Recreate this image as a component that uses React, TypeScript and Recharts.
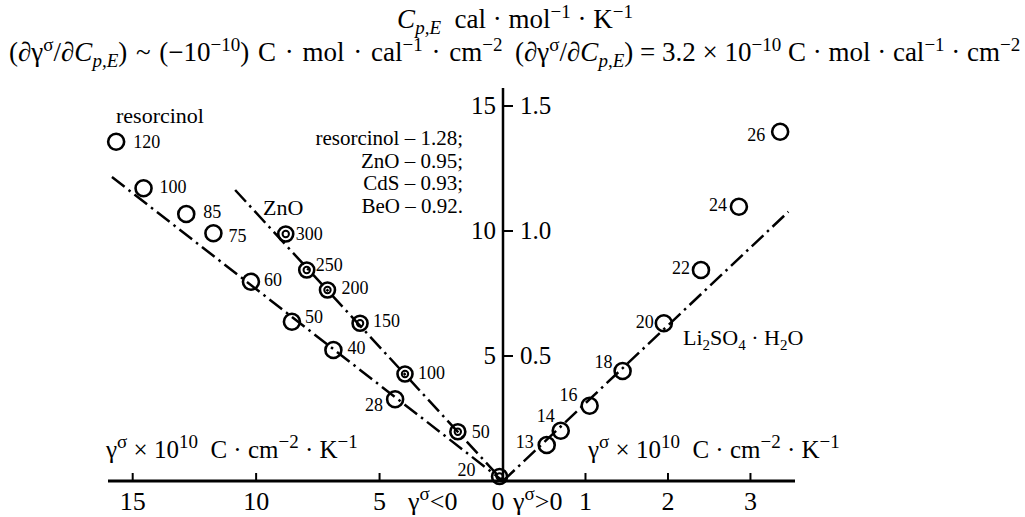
import React from "react";
import { ReferenceLine, Scatter, ScatterChart, XAxis, YAxis } from "recharts";

// resorcinol: temperature (K), gamma (x10^10, plotted as |γ|), Cp,E
const RES_T = [120, 100, 85, 75, 60, 50, 40, 28];
const RES_GAMMA = [15.67, 14.56, 12.83, 11.73, 10.21, 8.55, 6.87, 4.37];
const RES_CP = [13.57, 11.71, 10.68, 9.91, 7.97, 6.37, 5.24, 3.27];

// ZnO
const ZNO_T = [300, 250, 200, 150, 100, 50, 20];
const ZNO_GAMMA = [8.8, 7.95, 7.11, 5.79, 3.97, 1.83, 0.14];
const ZNO_CP = [9.88, 8.44, 7.64, 6.31, 4.28, 1.97, 0.18];

// Li2SO4·H2O
const LI_T = [13, 14, 16, 18, 20, 22, 24, 26];
const LI_GAMMA = [0.53, 0.7, 1.05, 1.45, 1.95, 2.4, 2.86, 3.36];
const LI_CP = [0.144, 0.201, 0.301, 0.44, 0.631, 0.844, 1.097, 1.397];

// linear fits, end points
const RES_FIT_GAMMA = [15.84, 0];
const RES_FIT_CP = [12.16, 0];
const ZNO_FIT_GAMMA = [10.85, 0];
const ZNO_FIT_CP = [11.64, 0];
const LI_FIT_GAMMA = [0, 3.46];
const LI_FIT_CP = [0, 1.077];

const LEFT_X_TICKS = [15, 10, 5];
const LEFT_Y_TICKS = [5, 10, 15];
const RIGHT_X_TICKS = [0, 1, 2, 3];
const RIGHT_Y_TICKS = [0.5, 1.0, 1.5];

// label offsets [dx, dy] from the marker centre
const RES_LABEL = [[17, 0], [16, -1], [17, -2], [15, 3], [13, -2], [13, -5], [14, -2], [-12, 6]];
const ZNO_LABEL = [[10, 0], [9, -5], [14, -2], [13, -2], [13, -1], [14, 0], [-24, -7]];
const LI_LABEL = [[-13, -3], [-6, -15], [-12, -11], [-10, -9], [-10, -1], [-11, -2], [-12, -2], [-15, 3]];

const SERIF = '"Liberation Serif", "DejaVu Serif", serif';
const INK = "#000";
const DASH = "16 5 2.5 5";
const SUP = 19;

const rows = (t: number[], g: number[], cp: number[]) =>
  t.map((v, i) => ({ t: v, gamma: g[i], cp: cp[i], i }));

const resRows = rows(RES_T, RES_GAMMA, RES_CP);
const znoRows = rows(ZNO_T, ZNO_GAMMA, ZNO_CP);
const liRows = rows(LI_T, LI_GAMMA, LI_CP);

const seg = (g: number[], cp: number[]) => [
  { x: g[0], y: cp[0] },
  { x: g[1], y: cp[1] },
];

function marker(labels: number[][], double: boolean) {
  return (props: any) => {
    const { cx, cy, payload } = props;
    const [dx, dy] = labels[payload.i];
    return (
      <g>
        <circle cx={cx} cy={cy} r={double ? 7.5 : 8} fill="none" stroke={INK} strokeWidth={2.6} />
        {double && <circle cx={cx} cy={cy} r={3.2} fill="none" stroke={INK} strokeWidth={2} />}
        <text
          x={cx + dx}
          y={cy + dy}
          textAnchor={dx < 0 ? "end" : "start"}
          dominantBaseline="central"
          fontSize={18}
          fontFamily={SERIF}
          fill={INK}
        >
          {payload.t}
        </text>
      </g>
    );
  };
}

function BottomTick(props: any) {
  const { x, y, payload } = props;
  return (
    <g>
      {payload.value !== 0 && <line x1={x} x2={x} y1={y} y2={y - 8} stroke={INK} strokeWidth={2} />}
      <text x={payload.value === 0 ? x - 5 : x} y={y + 29} textAnchor="middle" fontSize={26} fontFamily={SERIF} fill={INK}>
        {payload.value}
      </text>
    </g>
  );
}

function LeftScaleTick(props: any) {
  const { x, y, payload } = props;
  return (
    <text x={x - 7} y={y} dy={8} textAnchor="end" fontSize={25} fontFamily={SERIF} fill={INK}>
      {payload.value}
    </text>
  );
}

function RightScaleTick(props: any) {
  const { x, y, payload } = props;
  return (
    <g>
      <line x1={x} x2={x + 10} y1={y} y2={y} stroke={INK} strokeWidth={2} />
      <text x={x + 17} y={y} dy={8} textAnchor="start" fontSize={25} fontFamily={SERIF} fill={INK}>
        {Number(payload.value).toFixed(1)}
      </text>
    </g>
  );
}

const layer: React.CSSProperties = { position: "absolute", left: 0, top: 0 };

// (∂γ^σ/∂C_p,E) — leaves the baseline shifted down by the subscript (6px)
function Deriv() {
  return (
    <>
      <tspan>(∂γ</tspan>
      <tspan fontSize={SUP} dy={-10}>σ</tspan>
      <tspan dy={10}>/∂</tspan>
      <tspan fontStyle="italic">C</tspan>
      <tspan fontStyle="italic" fontSize={SUP} dy={6}>p,E</tspan>
    </>
  );
}

// C·mol·cal^-1·cm^-2; `back` undoes whatever shift the previous piece left
function PerCal({ back }: { back: number }) {
  return (
    <>
      <tspan dy={back}>{" C · mol · cal"}</tspan>
      <tspan fontSize={SUP} dy={-10}>−1</tspan>
      <tspan dy={10}>{" · cm"}</tspan>
      <tspan fontSize={SUP} dy={-10}>−2</tspan>
    </>
  );
}

function GammaUnit({ x }: { x: number }) {
  return (
    <text x={x} y={458} fontSize={25}>
      <tspan>γ</tspan>
      <tspan fontSize={19} dy={-10}>σ</tspan>
      <tspan dy={10}>{" × 10"}</tspan>
      <tspan fontSize={19} dy={-10}>10</tspan>
      <tspan dy={10}>{"\u00a0\u00a0C · cm"}</tspan>
      <tspan fontSize={19} dy={-10}>−2</tspan>
      <tspan dy={10}>{" · K"}</tspan>
      <tspan fontSize={19} dy={-10}>−1</tspan>
    </text>
  );
}

export default function App() {
  return (
    <div style={{ position: "absolute", left: 0, top: 0, width: 1025, height: 517, background: "#fff" }}>
      {/* γ < 0 side: resorcinol and ZnO */}
      <div style={layer}>
        <ScatterChart width={1025} height={517} margin={{ top: 88, right: 482, bottom: 6, left: 108 }}>
          <XAxis
            type="number"
            dataKey="gamma"
            domain={[0, 16]}
            reversed
            ticks={LEFT_X_TICKS}
            interval={0}
            height={30}
            tickSize={0}
            tickMargin={0}
            axisLine={{ stroke: INK, strokeWidth: 3 }}
            tickLine={false}
            tick={BottomTick}
          />
          <YAxis
            type="number"
            dataKey="cp"
            orientation="right"
            domain={[0, 15.72]}
            ticks={LEFT_Y_TICKS}
            interval={0}
            width={40}
            tickSize={0}
            tickMargin={0}
            axisLine={false}
            tickLine={false}
            tick={LeftScaleTick}
          />
          <ReferenceLine segment={seg(RES_FIT_GAMMA, RES_FIT_CP)} stroke={INK} strokeWidth={2.5} strokeDasharray={DASH} />
          <ReferenceLine segment={seg(ZNO_FIT_GAMMA, ZNO_FIT_CP)} stroke={INK} strokeWidth={2.5} strokeDasharray={DASH} />
          <Scatter data={resRows} shape={marker(RES_LABEL, false)} isAnimationActive={false} />
          <Scatter data={znoRows} shape={marker(ZNO_LABEL, true)} isAnimationActive={false} />
        </ScatterChart>
      </div>

      {/* γ > 0 side: Li2SO4·H2O */}
      <div style={layer}>
        <ScatterChart width={1025} height={517} margin={{ top: 88, right: 230, bottom: 6, left: 463 }}>
          <XAxis
            type="number"
            dataKey="gamma"
            domain={[0, 3.54]}
            ticks={RIGHT_X_TICKS}
            interval={0}
            height={30}
            tickSize={0}
            tickMargin={0}
            axisLine={{ stroke: INK, strokeWidth: 3 }}
            tickLine={false}
            tick={BottomTick}
          />
          <YAxis
            type="number"
            dataKey="cp"
            domain={[0, 1.572]}
            ticks={RIGHT_Y_TICKS}
            interval={0}
            width={40}
            tickSize={0}
            tickMargin={0}
            axisLine={{ stroke: INK, strokeWidth: 2.5 }}
            tickLine={false}
            tick={RightScaleTick}
          />
          <ReferenceLine segment={seg(LI_FIT_GAMMA, LI_FIT_CP)} stroke={INK} strokeWidth={2.5} strokeDasharray={DASH} />
          <Scatter data={liRows} shape={marker(LI_LABEL, false)} isAnimationActive={false} />
        </ScatterChart>
      </div>

      {/* titles and annotations */}
      <svg width={1025} height={517} style={{ ...layer, pointerEvents: "none" }} fontFamily={SERIF} fill={INK}>
        <text x={515} y={28} textAnchor="middle" fontSize={27}>
          <tspan fontStyle="italic">C</tspan>
          <tspan fontStyle="italic" fontSize={SUP} dy={6}>p,E</tspan>
          <tspan dy={-6}>{"\u00a0\u00a0cal · mol"}</tspan>
          <tspan fontSize={SUP} dy={-10}>−1</tspan>
          <tspan dy={10}>{" · K"}</tspan>
          <tspan fontSize={SUP} dy={-10}>−1</tspan>
        </text>

        <text x={9} y={61} fontSize={27} wordSpacing={2}>
          <Deriv />
          <tspan dy={-6}>{") ~ (−10"}</tspan>
          <tspan fontSize={SUP} dy={-10}>−10</tspan>
          <tspan dy={10}>)</tspan>
          <PerCal back={0} />
        </text>

        <text x={515} y={61} fontSize={27}>
          <Deriv />
          <tspan dy={-6}>{") = 3.2 × 10"}</tspan>
          <tspan fontSize={SUP} dy={-10}>−10</tspan>
          <PerCal back={10} />
        </text>

        <GammaUnit x={106} />
        <GammaUnit x={588} />

        <text x={408} y={510} fontSize={26}>
          <tspan>γ</tspan>
          <tspan fontSize={19} dy={-10}>σ</tspan>
          <tspan dy={10}>{"<0"}</tspan>
        </text>
        <text x={513} y={510} fontSize={26}>
          <tspan>γ</tspan>
          <tspan fontSize={19} dy={-10}>σ</tspan>
          <tspan dy={10}>{">0"}</tspan>
        </text>

        <text x={116} y={123} fontSize={22}>resorcinol</text>
        <text x={463} y={145} fontSize={21} textAnchor="end">resorcinol – 1.28;</text>
        <text x={463} y={168} fontSize={21} textAnchor="end">ZnO – 0.95;</text>
        <text x={463} y={190} fontSize={21} textAnchor="end">CdS – 0.93;</text>
        <text x={463} y={213} fontSize={21} textAnchor="end">BeO – 0.92.</text>
        <text x={263} y={215} fontSize={22}>ZnO</text>

        <text x={683} y={345} fontSize={22}>
          <tspan>Li</tspan>
          <tspan fontSize={15} dy={5}>2</tspan>
          <tspan dy={-5}>SO</tspan>
          <tspan fontSize={15} dy={5}>4</tspan>
          <tspan dy={-5}>{" · H"}</tspan>
          <tspan fontSize={15} dy={5}>2</tspan>
          <tspan dy={-5}>O</tspan>
        </text>
      </svg>
    </div>
  );
}
